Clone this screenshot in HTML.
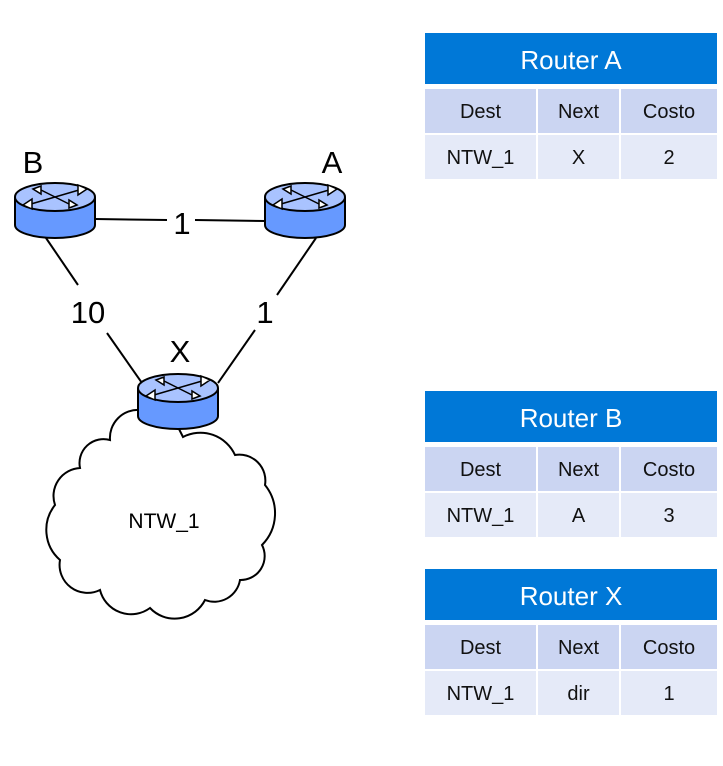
<!DOCTYPE html>
<html><head><meta charset="utf-8"><style>
body{margin:0;width:723px;height:766px;background:#fff;font-family:"Liberation Sans",sans-serif;overflow:hidden}
svg{position:absolute;left:0;top:0}
.t{position:absolute;left:425px;width:292px}
.ti{height:51px;background:#0078d7;color:#fff;font-size:26px;text-align:center;line-height:54px}
.r{display:flex;margin-top:5px;height:44px}
.r div{margin-right:2px;display:flex;align-items:center;justify-content:center;font-size:20px;color:#111;padding-top:2px;box-sizing:border-box}
.r div:last-child{margin-right:0}
.h div{background:#cbd5f2}
.d{margin-top:2px}
.d div{background:#e5eaf8}
.c1{width:111px}.c2{width:81px}.c3{width:96px}
</style></head><body>
<svg width="723" height="766">
<defs>
<g id="rt">
<ellipse cx="0" cy="28" rx="40" ry="13" fill="#6699ff" stroke="#000" stroke-width="2"/>
<rect x="-39" y="0" width="78" height="28" fill="#6699ff"/>
<line x1="-40" y1="0" x2="-40" y2="28" stroke="#000" stroke-width="2"/>
<line x1="40" y1="0" x2="40" y2="28" stroke="#000" stroke-width="2"/>
<ellipse cx="0" cy="0" rx="40" ry="14" fill="#a9c3ff" stroke="#000" stroke-width="2"/>
<g stroke="#000" stroke-width="1.5" fill="#fff">
<line x1="-24" y1="7" x2="24" y2="-7"/><line x1="-14" y1="-7" x2="14" y2="7"/>
<path d="M-32 8 l9 -6 l0 10 z M32 -8 l-9 6 l0 -10 z M-22 -8 l8 -3 l0 8 z M22 8 l-8 3 l0 -8 z"/>
</g>
</g>
</defs>
<g stroke="#000" stroke-width="2" fill="none">
<line x1="95" y1="219" x2="167" y2="220"/><line x1="195" y1="220" x2="265" y2="221"/>
<line x1="46" y1="238" x2="78" y2="285"/><line x1="107" y1="333" x2="142" y2="383"/>
<line x1="316" y1="238" x2="277" y2="295"/><line x1="255" y1="330" x2="218" y2="383"/>
<path fill="#fff" d="M80 468 A24 24 0 0 1 110 440 A28 28 0 0 1 140 410 L178 427 L183 437 A38 38 0 0 1 235 455 A26 26 0 0 1 265 485 A45 45 0 0 1 262 545 A24 24 0 0 1 240 580 A26 26 0 0 1 205 600 A34 34 0 0 1 150 608 A32 32 0 0 1 100 590 A28 28 0 0 1 60 560 A40 40 0 0 1 55 505 A28 28 0 0 1 80 468 Z"/>
</g>
<use href="#rt" x="55" y="197"/>
<use href="#rt" x="305" y="197"/>
<use href="#rt" x="178" y="388"/>
<g font-family="Liberation Sans" font-size="31" text-anchor="middle" fill="#000">
<text x="33" y="173">B</text><text x="332" y="173">A</text><text x="180" y="362">X</text>
<text x="182" y="234">1</text><text x="88" y="323">10</text><text x="265" y="323">1</text>
<text x="164" y="528" font-size="21">NTW_1</text>
</g>
</svg>
<div class="t" style="top:33px"><div class="ti">Router A</div>
<div class="r h"><div class="c1">Dest</div><div class="c2">Next</div><div class="c3">Costo</div></div>
<div class="r d"><div class="c1">NTW_1</div><div class="c2">X</div><div class="c3">2</div></div></div>
<div class="t" style="top:391px"><div class="ti">Router B</div>
<div class="r h"><div class="c1">Dest</div><div class="c2">Next</div><div class="c3">Costo</div></div>
<div class="r d"><div class="c1">NTW_1</div><div class="c2">A</div><div class="c3">3</div></div></div>
<div class="t" style="top:569px"><div class="ti">Router X</div>
<div class="r h"><div class="c1">Dest</div><div class="c2">Next</div><div class="c3">Costo</div></div>
<div class="r d"><div class="c1">NTW_1</div><div class="c2">dir</div><div class="c3">1</div></div></div>
</body></html>
